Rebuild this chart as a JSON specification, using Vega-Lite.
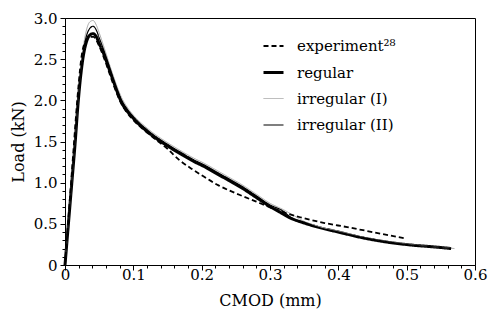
{
  "$schema": "https://vega.github.io/schema/vega-lite/v6.json",
  "width": 410,
  "height": 247,
  "autosize": "none",
  "padding": {"left": 65, "top": 18, "right": 14, "bottom": 44},
  "background": "white",
  "config": {
    "font": "DejaVu Serif",
    "view": {"stroke": "black", "strokeWidth": 1},
    "axis": {"domainColor": "black", "tickColor": "black", "labelColor": "black", "titleColor": "black", "grid": false}
  },
  "data": {"values": [
    {"s":"regular","x":0,"y":0},{"s":"regular","x":0.005,"y":0.5},{"s":"regular","x":0.01,"y":1.0},{"s":"regular","x":0.015,"y":1.5},{"s":"regular","x":0.019,"y":1.95},{"s":"regular","x":0.023,"y":2.3},{"s":"regular","x":0.027,"y":2.55},{"s":"regular","x":0.031,"y":2.7},{"s":"regular","x":0.036,"y":2.79},{"s":"regular","x":0.041,"y":2.81},{"s":"regular","x":0.046,"y":2.77},{"s":"regular","x":0.05,"y":2.69},{"s":"regular","x":0.055,"y":2.6},{"s":"regular","x":0.06,"y":2.49},{"s":"regular","x":0.065,"y":2.37},{"s":"regular","x":0.071,"y":2.23},{"s":"regular","x":0.077,"y":2.09},{"s":"regular","x":0.083,"y":1.97},{"s":"regular","x":0.09,"y":1.88},{"s":"regular","x":0.098,"y":1.8},{"s":"regular","x":0.107,"y":1.72},{"s":"regular","x":0.117,"y":1.645},{"s":"regular","x":0.128,"y":1.57},{"s":"regular","x":0.14,"y":1.5},{"s":"regular","x":0.155,"y":1.42},{"s":"regular","x":0.171,"y":1.34},{"s":"regular","x":0.188,"y":1.26},{"s":"regular","x":0.205,"y":1.19},{"s":"regular","x":0.222,"y":1.11},{"s":"regular","x":0.239,"y":1.03},{"s":"regular","x":0.26,"y":0.93},{"s":"regular","x":0.28,"y":0.82},{"s":"regular","x":0.3,"y":0.71},{"s":"regular","x":0.315,"y":0.64},{"s":"regular","x":0.33,"y":0.57},{"s":"regular","x":0.35,"y":0.51},{"s":"regular","x":0.37,"y":0.46},{"s":"regular","x":0.4,"y":0.4},{"s":"regular","x":0.436,"y":0.33},{"s":"regular","x":0.47,"y":0.28},{"s":"regular","x":0.51,"y":0.24},{"s":"regular","x":0.54,"y":0.22},{"s":"regular","x":0.565,"y":0.2},
    {"s":"irregular (I)","x":0,"y":0},{"s":"irregular (I)","x":0.005,"y":0.52},{"s":"irregular (I)","x":0.01,"y":1.03},{"s":"irregular (I)","x":0.015,"y":1.55},{"s":"irregular (I)","x":0.019,"y":2.0},{"s":"irregular (I)","x":0.023,"y":2.38},{"s":"irregular (I)","x":0.027,"y":2.66},{"s":"irregular (I)","x":0.031,"y":2.84},{"s":"irregular (I)","x":0.036,"y":2.95},{"s":"irregular (I)","x":0.041,"y":2.97},{"s":"irregular (I)","x":0.046,"y":2.91},{"s":"irregular (I)","x":0.05,"y":2.82},{"s":"irregular (I)","x":0.055,"y":2.7},{"s":"irregular (I)","x":0.06,"y":2.57},{"s":"irregular (I)","x":0.065,"y":2.44},{"s":"irregular (I)","x":0.071,"y":2.29},{"s":"irregular (I)","x":0.077,"y":2.15},{"s":"irregular (I)","x":0.083,"y":2.03},{"s":"irregular (I)","x":0.09,"y":1.93},{"s":"irregular (I)","x":0.098,"y":1.84},{"s":"irregular (I)","x":0.107,"y":1.76},{"s":"irregular (I)","x":0.117,"y":1.685},{"s":"irregular (I)","x":0.128,"y":1.61},{"s":"irregular (I)","x":0.14,"y":1.54},{"s":"irregular (I)","x":0.155,"y":1.46},{"s":"irregular (I)","x":0.171,"y":1.38},{"s":"irregular (I)","x":0.188,"y":1.3},{"s":"irregular (I)","x":0.205,"y":1.23},{"s":"irregular (I)","x":0.222,"y":1.15},{"s":"irregular (I)","x":0.239,"y":1.07},{"s":"irregular (I)","x":0.26,"y":0.97},{"s":"irregular (I)","x":0.28,"y":0.86},{"s":"irregular (I)","x":0.3,"y":0.75},{"s":"irregular (I)","x":0.32,"y":0.67},{"s":"irregular (I)","x":0.335,"y":0.6},{"s":"irregular (I)","x":0.35,"y":0.53},{"s":"irregular (I)","x":0.37,"y":0.47},{"s":"irregular (I)","x":0.4,"y":0.41},{"s":"irregular (I)","x":0.436,"y":0.34},{"s":"irregular (I)","x":0.47,"y":0.29},{"s":"irregular (I)","x":0.51,"y":0.245},{"s":"irregular (I)","x":0.54,"y":0.22},{"s":"irregular (I)","x":0.57,"y":0.2},
    {"s":"irregular (II)","x":0,"y":0},{"s":"irregular (II)","x":0.005,"y":0.51},{"s":"irregular (II)","x":0.01,"y":1.02},{"s":"irregular (II)","x":0.015,"y":1.52},{"s":"irregular (II)","x":0.019,"y":1.98},{"s":"irregular (II)","x":0.023,"y":2.34},{"s":"irregular (II)","x":0.027,"y":2.6},{"s":"irregular (II)","x":0.031,"y":2.77},{"s":"irregular (II)","x":0.036,"y":2.87},{"s":"irregular (II)","x":0.041,"y":2.9},{"s":"irregular (II)","x":0.046,"y":2.85},{"s":"irregular (II)","x":0.05,"y":2.76},{"s":"irregular (II)","x":0.055,"y":2.65},{"s":"irregular (II)","x":0.06,"y":2.53},{"s":"irregular (II)","x":0.065,"y":2.41},{"s":"irregular (II)","x":0.071,"y":2.26},{"s":"irregular (II)","x":0.077,"y":2.12},{"s":"irregular (II)","x":0.083,"y":2.0},{"s":"irregular (II)","x":0.09,"y":1.905},{"s":"irregular (II)","x":0.098,"y":1.82},{"s":"irregular (II)","x":0.107,"y":1.74},{"s":"irregular (II)","x":0.117,"y":1.665},{"s":"irregular (II)","x":0.128,"y":1.59},{"s":"irregular (II)","x":0.14,"y":1.52},{"s":"irregular (II)","x":0.155,"y":1.44},{"s":"irregular (II)","x":0.171,"y":1.36},{"s":"irregular (II)","x":0.188,"y":1.28},{"s":"irregular (II)","x":0.205,"y":1.21},{"s":"irregular (II)","x":0.222,"y":1.13},{"s":"irregular (II)","x":0.239,"y":1.05},{"s":"irregular (II)","x":0.26,"y":0.95},{"s":"irregular (II)","x":0.28,"y":0.84},{"s":"irregular (II)","x":0.3,"y":0.73},{"s":"irregular (II)","x":0.32,"y":0.65},{"s":"irregular (II)","x":0.33,"y":0.58},{"s":"irregular (II)","x":0.35,"y":0.52},{"s":"irregular (II)","x":0.37,"y":0.46},{"s":"irregular (II)","x":0.4,"y":0.4},{"s":"irregular (II)","x":0.436,"y":0.335},{"s":"irregular (II)","x":0.47,"y":0.285},{"s":"irregular (II)","x":0.51,"y":0.24},{"s":"irregular (II)","x":0.54,"y":0.22},{"s":"irregular (II)","x":0.565,"y":0.2},
    {"s":"experiment²⁸","x":0,"y":0},{"s":"experiment²⁸","x":0.004,"y":0.45},{"s":"experiment²⁸","x":0.008,"y":0.9},{"s":"experiment²⁸","x":0.012,"y":1.35},{"s":"experiment²⁸","x":0.016,"y":1.8},{"s":"experiment²⁸","x":0.02,"y":2.2},{"s":"experiment²⁸","x":0.024,"y":2.52},{"s":"experiment²⁸","x":0.028,"y":2.68},{"s":"experiment²⁸","x":0.032,"y":2.74},{"s":"experiment²⁸","x":0.037,"y":2.77},{"s":"experiment²⁸","x":0.042,"y":2.77},{"s":"experiment²⁸","x":0.046,"y":2.73},{"s":"experiment²⁸","x":0.05,"y":2.66},{"s":"experiment²⁸","x":0.055,"y":2.56},{"s":"experiment²⁸","x":0.06,"y":2.45},{"s":"experiment²⁸","x":0.065,"y":2.33},{"s":"experiment²⁸","x":0.071,"y":2.19},{"s":"experiment²⁸","x":0.077,"y":2.06},{"s":"experiment²⁸","x":0.083,"y":1.95},{"s":"experiment²⁸","x":0.09,"y":1.86},{"s":"experiment²⁸","x":0.1,"y":1.76},{"s":"experiment²⁸","x":0.11,"y":1.68},{"s":"experiment²⁸","x":0.12,"y":1.61},{"s":"experiment²⁸","x":0.135,"y":1.51},{"s":"experiment²⁸","x":0.15,"y":1.41},{"s":"experiment²⁸","x":0.168,"y":1.27},{"s":"experiment²⁸","x":0.185,"y":1.17},{"s":"experiment²⁸","x":0.2,"y":1.09},{"s":"experiment²⁸","x":0.224,"y":0.97},{"s":"experiment²⁸","x":0.256,"y":0.85},{"s":"experiment²⁸","x":0.28,"y":0.77},{"s":"experiment²⁸","x":0.3,"y":0.7},{"s":"experiment²⁸","x":0.32,"y":0.64},{"s":"experiment²⁸","x":0.344,"y":0.58},{"s":"experiment²⁸","x":0.38,"y":0.51},{"s":"experiment²⁸","x":0.413,"y":0.46},{"s":"experiment²⁸","x":0.45,"y":0.4},{"s":"experiment²⁸","x":0.5,"y":0.32}
  ]},
  "mark": {"type": "line", "strokeCap": "butt", "strokeJoin": "round", "interpolate": "monotone"},
  "encoding": {
    "x": {
      "field": "x", "type": "quantitative",
      "scale": {"domain": [0, 0.6], "nice": false, "zero": false},
      "axis": {
        "title": "CMOD (mm)", "titleFontSize": 16, "titleFontWeight": "normal", "titlePadding": 10,
        "labelFontSize": 15, "labelPadding": -3, "labelOverlap": false, "labelFlush": false,
        "values": [0,0.02,0.04,0.06,0.08,0.1,0.12,0.14,0.16,0.18,0.2,0.22,0.24,0.26,0.28,0.3,0.32,0.34,0.36,0.38,0.4,0.42,0.44,0.46,0.48,0.5,0.52,0.54,0.56,0.58,0.6],
        "labelExpr": "abs(datum.value*10-round(datum.value*10))<1e-6 ? (datum.value==0 ? '0' : format(datum.value,'.1f')) : ''",
        "tickSize": {"condition": {"test": "abs(datum.value*10-round(datum.value*10))<1e-6", "value": 5}, "value": 3}
      }
    },
    "y": {
      "field": "y", "type": "quantitative",
      "scale": {"domain": [0, 3], "nice": false},
      "axis": {
        "title": "Load (kN)", "titleFontSize": 16, "titleFontWeight": "normal", "titlePadding": 7,
        "labelFontSize": 15, "labelPadding": 3, "labelOverlap": false, "labelFlush": false,
        "values": [0,0.1,0.2,0.3,0.4,0.5,0.6,0.7,0.8,0.9,1,1.1,1.2,1.3,1.4,1.5,1.6,1.7,1.8,1.9,2,2.1,2.2,2.3,2.4,2.5,2.6,2.7,2.8,2.9,3],
        "labelExpr": "abs(datum.value*2-round(datum.value*2))<1e-6 ? (datum.value==0 ? '0' : format(datum.value,'.1f')) : ''",
        "tickSize": {"condition": {"test": "abs(datum.value*2-round(datum.value*2))<1e-6", "value": 5}, "value": 3}
      }
    },
    "color": {
      "field": "s", "type": "nominal",
      "scale": {"domain": ["experiment²⁸", "regular", "irregular (I)", "irregular (II)"], "range": ["black", "black", "#a8a8a8", "black"]},
      "legend": {
        "title": null, "orient": "none", "legendX": 197, "legendY": 17, "padding": 0,
        "labelFontSize": 15, "labelOffset": 12, "rowPadding": 7,
        "symbolType": "stroke", "symbolSize": 400, "labelColor": "black"
      }
    },
    "strokeWidth": {
      "field": "s", "type": "nominal",
      "scale": {"type": "ordinal", "domain": ["experiment²⁸", "regular", "irregular (I)", "irregular (II)"], "range": [1.8, 3, 1, 1.2]},
      "legend": {
        "title": null, "orient": "none", "legendX": 197, "legendY": 17, "padding": 0,
        "labelFontSize": 15, "labelOffset": 12, "rowPadding": 7,
        "symbolType": "stroke", "symbolSize": 400, "labelColor": "black"
      }
    },
    "strokeDash": {
      "field": "s", "type": "nominal",
      "scale": {"domain": ["experiment²⁸", "regular", "irregular (I)", "irregular (II)"], "range": [[5, 3], [1, 0], [1, 0], [1, 0]]},
      "legend": {
        "title": null, "orient": "none", "legendX": 197, "legendY": 17, "padding": 0,
        "labelFontSize": 15, "labelOffset": 12, "rowPadding": 7,
        "symbolType": "stroke", "symbolSize": 400, "labelColor": "black"
      }
    }
  }
}
